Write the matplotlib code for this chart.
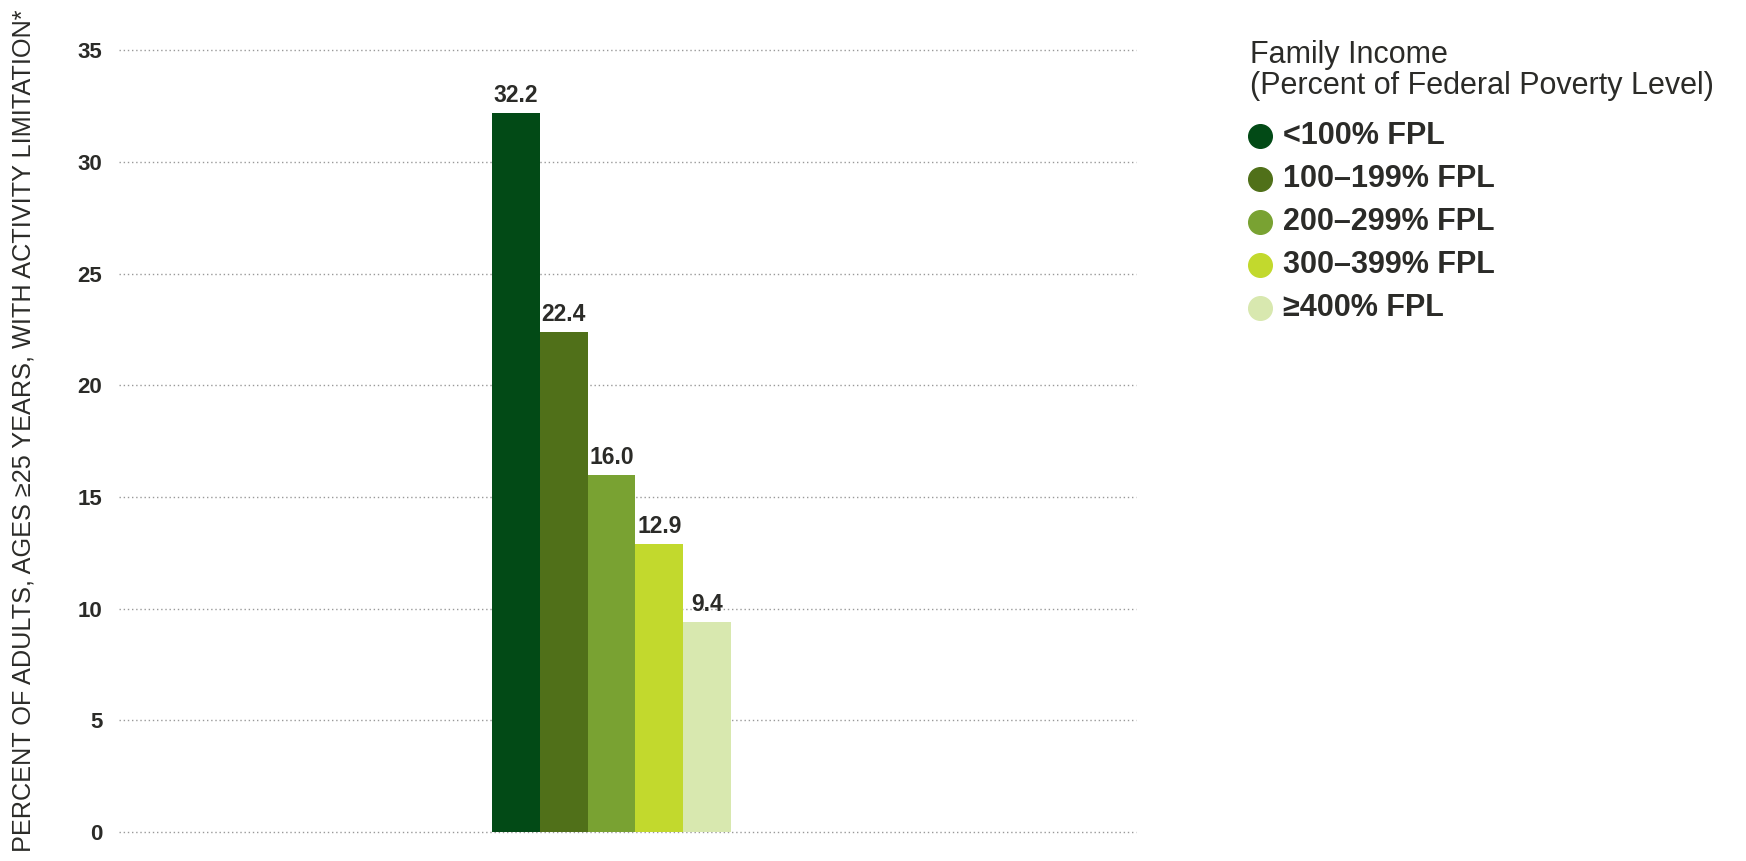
import numpy as np
import matplotlib
matplotlib.use('Agg')
import matplotlib.pyplot as plt
from matplotlib.lines import Line2D

plt.rcParams['font.family'] = ['Liberation Sans', 'DejaVu Sans']

# data
categories = ['<100% FPL', '100\u2013199% FPL', '200\u2013299% FPL', '300\u2013399% FPL', '\u2265400% FPL']
values = [32.2, 22.4, 16.0, 12.9, 9.4]
colors = ['#024a16', '#507019', '#79a232', '#c2d92d', '#d8e8af']
yticks = [0, 5, 10, 15, 20, 25, 30, 35]
ylabel = 'PERCENT OF ADULTS, AGES \u226525 YEARS, WITH ACTIVITY LIMITATION*'
legend_title = ['Family Income', '(Percent of Federal Poverty Level)']

txt = '#2b2b28'
W, H = 1746.0, 861.0

fig = plt.figure(figsize=(17.46, 8.61), dpi=100)
ax = fig.add_axes([0.0682, 0.0337, 0.5825, 0.908])

x = np.arange(len(values)) - 2
bars = ax.bar(x, values, width=1.0, color=colors, zorder=3)
for b, v in zip(bars, values):
    ax.annotate('%.1f' % v, (b.get_x() + b.get_width() / 2, v), xytext=(0, 4),
                textcoords='offset points', ha='center', va='bottom',
                fontsize=16.5, fontweight='bold', color=txt)

ax.set_xlim(-10.3, 10.97)
ax.set_ylim(0, 35)
ax.set_yticks(yticks)
ax.set_xticks([])
ax.tick_params(axis='y', length=0, pad=12, labelsize=16, labelcolor=txt)
for lab in ax.get_yticklabels():
    lab.set_fontweight('bold')
for s in ax.spines.values():
    s.set_visible(False)
ax.yaxis.grid(True, linestyle=(0, (1, 2)), color='#999999', linewidth=1.0, zorder=0)
for gl in ax.yaxis.get_gridlines():
    gl.set_clip_on(False)

fig.text(0.0135, 0.5, ylabel, rotation=90, ha='center', va='center',
         fontsize=18.2, color=txt)

# legend (placed by hand)
fig.text(1250 / W, 1 - 55 / H, legend_title[0], fontsize=22, color=txt, va='center')
fig.text(1250 / W, 1 - 86 / H, legend_title[1], fontsize=22, color=txt, va='center')
for i, (cat, c) in enumerate(zip(categories, colors)):
    yy = 1 - (136 + 43 * i) / H
    fig.add_artist(Line2D([1260 / W], [yy], transform=fig.transFigure, marker='o',
                          markersize=17, markerfacecolor=c, markeredgecolor=c, linestyle='none'))
    fig.text(1283 / W, yy, cat, fontsize=22, fontweight='bold', color=txt, va='center')

fig.savefig('out.png', dpi=100)
